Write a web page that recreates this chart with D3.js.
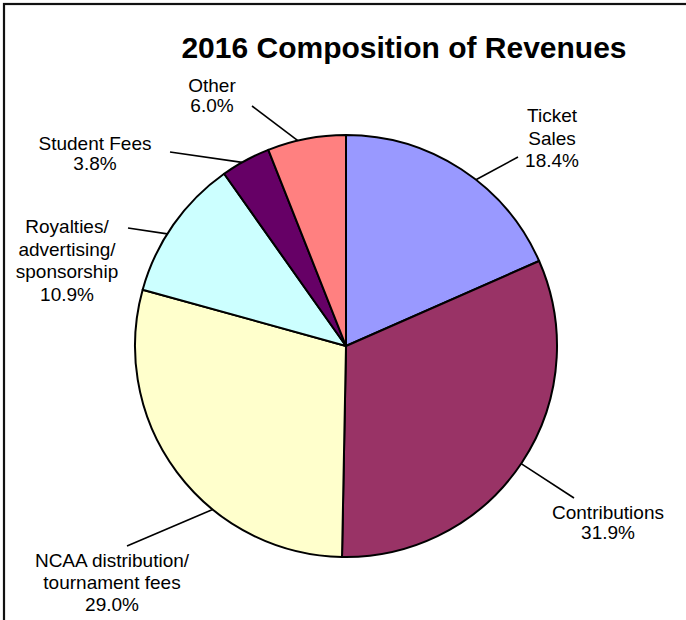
<!DOCTYPE html>
<html>
<head>
<meta charset="utf-8">
<script src="https://cdn.jsdelivr.net/npm/d3@7"></script>
<style>
  html, body { margin: 0; padding: 0; background: #fff; }
  svg { display: block; }
  text { font-family: "Liberation Sans", Arial, sans-serif; fill: #000; }
</style>
</head>
<body>
<svg id="chart" width="686" height="620"></svg>
<script>
// ---- data ----
const categories = ["Ticket Sales", "Contributions", "NCAA distribution/tournament fees",
                    "Royalties/advertising/sponsorship", "Student Fees", "Other"];
const labelLines = [["Ticket", "Sales"], ["Contributions"], ["NCAA distribution/", "tournament fees"],
                    ["Royalties/", "advertising/", "sponsorship"], ["Student Fees"], ["Other"]];
const shares = [18.4, 31.9, 29.0, 10.9, 3.8, 6.0];
const title = "2016 Composition of Revenues";

// ---- styles / layout ----
const colors = ["#9999FF", "#993366", "#FFFFCC", "#CCFFFF", "#660066", "#FF8080"];
const cx = 346, cy = 346, R = 211;
// label layout: text anchor (first baseline), leader outer end, leader attach angle (deg, clockwise from top), line height
const labelLayout = [
  { tx: 552, ty: 122, lx: 518, ly: 157, a: 38.0,  lh: 22.5 },
  { tx: 608, ty: 519, lx: 574, ly: 498, a: 123.9, lh: 19.5 },
  { tx: 112, ty: 567, lx: 127, ly: 546, a: 219.2, lh: 22 },
  { tx: 67,  ty: 233, lx: 128, ly: 228, a: 302.1, lh: 22.5 },
  { tx: 95,  ty: 150, lx: 170, ly: 152, a: 330.5, lh: 19.5 },
  { tx: 212, ty: 92,  lx: 252, ly: 106, a: 346.8, lh: 19.5 }
];

const svg = d3.select("#chart");

// frame (extends past the right and bottom edges)
svg.append("rect")
  .attr("x", 4).attr("y", 4).attr("width", 720).attr("height", 720)
  .attr("fill", "none").attr("stroke", "#111").attr("stroke-width", 2.2);

// title
svg.append("text")
  .attr("x", 404).attr("y", 58)
  .attr("text-anchor", "middle")
  .style("font-size", "30px").style("font-weight", "bold")
  .text(title);

const data = categories.map((c, i) => ({ cat: c, value: shares[i], i }));
const pie = d3.pie().sort(null).value(d => d.value);
const arcs = pie(data);
const arc = d3.arc().innerRadius(0).outerRadius(R);

const g = svg.append("g").attr("transform", `translate(${cx},${cy})`);
g.selectAll("path.slice")
  .data(arcs)
  .join("path")
  .attr("class", "slice")
  .attr("d", arc)
  .attr("fill", d => colors[d.data.i])
  .attr("stroke", "#000")
  .attr("stroke-width", 2)
  .attr("stroke-linejoin", "round");

// leader lines
svg.selectAll("line.leader")
  .data(arcs)
  .join("line")
  .attr("class", "leader")
  .attr("x1", d => labelLayout[d.data.i].lx)
  .attr("y1", d => labelLayout[d.data.i].ly)
  .attr("x2", d => cx + R * Math.sin(labelLayout[d.data.i].a * Math.PI / 180))
  .attr("y2", d => cy - R * Math.cos(labelLayout[d.data.i].a * Math.PI / 180))
  .attr("stroke", "#000").attr("stroke-width", 1.6);

// labels
const fmt = d3.format(".1f");
const lbl = svg.selectAll("text.lbl")
  .data(arcs)
  .join("text")
  .attr("class", "lbl")
  .attr("text-anchor", "middle")
  .style("font-size", "19px")
  .attr("x", d => labelLayout[d.data.i].tx)
  .attr("y", d => labelLayout[d.data.i].ty);

lbl.each(function(d) {
  const L = labelLayout[d.data.i];
  const lines = labelLines[d.data.i].concat([fmt(d.data.value) + "%"]);
  d3.select(this).selectAll("tspan")
    .data(lines)
    .join("tspan")
    .attr("x", L.tx)
    .attr("dy", (t, k) => k === 0 ? 0 : L.lh)
    .text(t => t);
});
</script>
</body>
</html>
